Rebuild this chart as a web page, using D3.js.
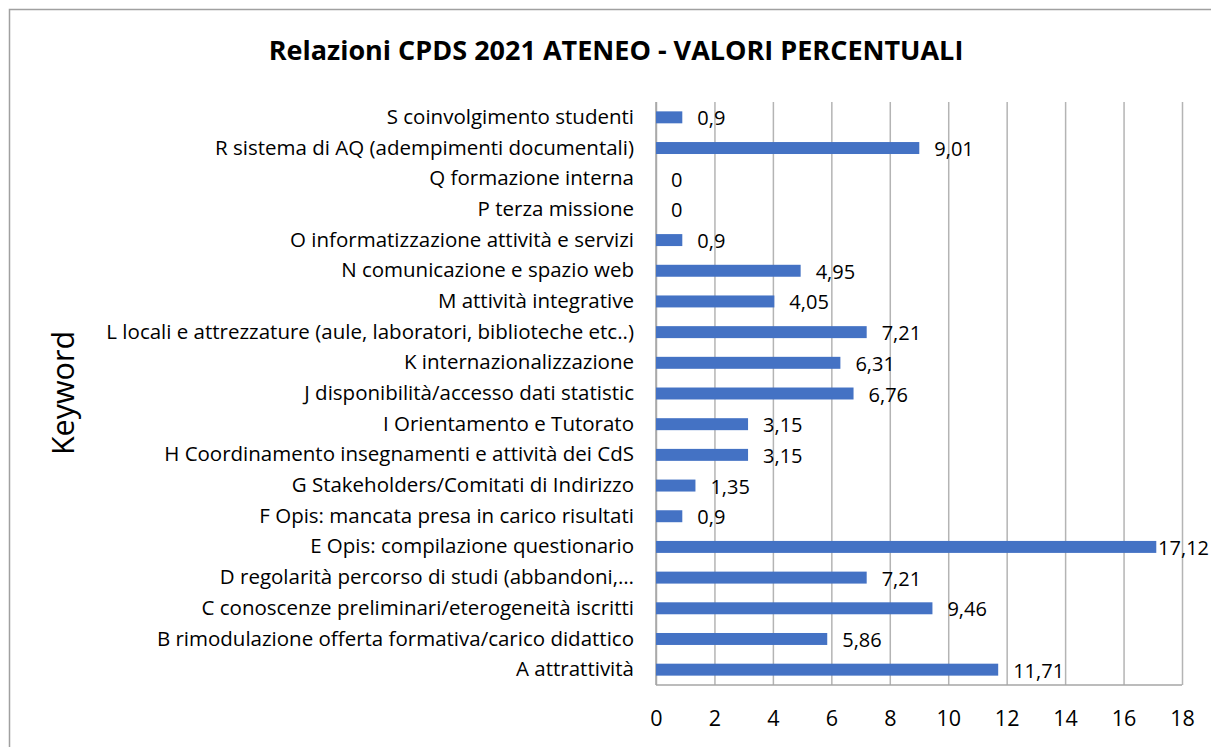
<!DOCTYPE html>
<html lang="it">
<head>
  <meta charset="UTF-8" />
  <title>Relazioni CPDS 2021 ATENEO</title>
  <script src="https://cdn.jsdelivr.net/npm/d3@7"></script>
  <style>
    body { margin: 0; background: #fff; }
    text { font-family: "Open Sans", sans-serif; fill: #000; font-variant-ligatures: none; }
  </style>
</head>
<body>
  <svg id="chart" width="1211" height="747"></svg>
  <script>
    // keywords, top to bottom as in the picture
    var categories = [
      "S coinvolgimento studenti",
      "R sistema di AQ (adempimenti documentali)",
      "Q formazione interna",
      "P terza missione",
      "O informatizzazione attività e servizi",
      "N comunicazione e spazio web",
      "M attività integrative",
      "L locali e attrezzature (aule, laboratori, biblioteche etc..)",
      "K internazionalizzazione",
      "J disponibilità/accesso dati statistic",
      "I Orientamento e Tutorato",
      "H Coordinamento insegnamenti e attività dei CdS",
      "G Stakeholders/Comitati di Indirizzo",
      "F Opis: mancata presa in carico risultati",
      "E Opis: compilazione questionario",
      "D regolarità percorso di studi (abbandoni,…",
      "C conoscenze preliminari/eterogeneità iscritti",
      "B rimodulazione offerta formativa/carico didattico",
      "A attrattività"
    ];
    var values = [0.9, 9.01, 0, 0, 0.9, 4.95, 4.05, 7.21, 6.31, 6.76, 3.15, 3.15, 1.35, 0.9, 17.12, 7.21, 9.46, 5.86, 11.71];
    var xTicks = [0, 2, 4, 6, 8, 10, 12, 14, 16, 18];

    var svg = d3.select("#chart");
    var margin = { top: 102, right: 29, bottom: 62, left: 656 };
    var w = 1211, h = 747;
    var plotW = w - margin.left - margin.right;
    var plotH = h - margin.top - margin.bottom;

    // outer frame of the chart
    svg.append("rect")
      .attr("x", 9.5).attr("y", 9.5)
      .attr("width", 1300).attr("height", 1000)
      .attr("fill", "none")
      .attr("stroke", "#a0a0a0")
      .attr("stroke-width", 1.5);

    svg.append("text")
      .attr("x", 616)
      .attr("y", 60)
      .attr("text-anchor", "middle")
      .style("font-size", "27px")
      .style("font-weight", "bold")
      .text("Relazioni CPDS 2021 ATENEO - VALORI PERCENTUALI");

    var g = svg.append("g")
      .attr("transform", "translate(" + margin.left + "," + margin.top + ")");

    var x = d3.scaleLinear()
      .domain([0, 18])
      .range([0, plotW]);

    var y = d3.scaleBand()
      .domain(categories)
      .range([0, plotH])
      .paddingInner(0.61)
      .paddingOuter(0.305);

    // gridlines + tick labels
    var xAxis = g.append("g")
      .attr("transform", "translate(0," + plotH + ")")
      .call(d3.axisBottom(x).tickValues(xTicks).tickSize(-plotH).tickPadding(26));
    xAxis.select(".domain").remove();
    xAxis.selectAll(".tick line")
      .attr("stroke", "#b4b4b4")
      .attr("stroke-width", 1.5);
    xAxis.selectAll(".tick text")
      .style("font-size", "21.5px")
      .style("font-family", "'Open Sans', sans-serif");

    // axis lines
    g.append("line")
      .attr("x1", 0).attr("x2", plotW)
      .attr("y1", plotH).attr("y2", plotH)
      .attr("stroke", "#a6a6a6").attr("stroke-width", 1.5);
    g.append("line")
      .attr("x1", 0).attr("x2", 0)
      .attr("y1", 0).attr("y2", plotH)
      .attr("stroke", "#a6a6a6").attr("stroke-width", 1.5);

    // category labels
    var yAxis = g.append("g")
      .call(d3.axisLeft(y).tickSize(0).tickPadding(22));
    yAxis.select(".domain").remove();
    yAxis.selectAll(".tick text")
      .style("font-size", "20.5px")
      .style("font-family", "'Open Sans', sans-serif");

    g.selectAll("rect.bar")
      .data(values)
      .enter()
      .append("rect")
      .attr("class", "bar")
      .attr("x", 0)
      .attr("y", function(d, i) { return y(categories[i]); })
      .attr("width", function(d) { return x(d); })
      .attr("height", y.bandwidth())
      .attr("fill", "#4472c4");

    g.selectAll("text.val")
      .data(values)
      .enter()
      .append("text")
      .attr("class", "val")
      .attr("y", function(d, i) { return y(categories[i]) + y.bandwidth() / 2; })
      .attr("dy", "0.4em")
      .style("font-size", "20px")
      .text(function(d) { return String(d).replace(".", ","); })
      .attr("x", function(d) {
        // keep the label inside the frame (the long E bar)
        var len = this.getComputedTextLength();
        return Math.min(x(d) + 15, plotW + margin.right - len - 2);
      });

    svg.append("text")
      .attr("transform", "translate(74,393) rotate(-90)")
      .attr("text-anchor", "middle")
      .style("font-size", "30.5px")
      .text("Keyword");
  </script>
</body>
</html>
